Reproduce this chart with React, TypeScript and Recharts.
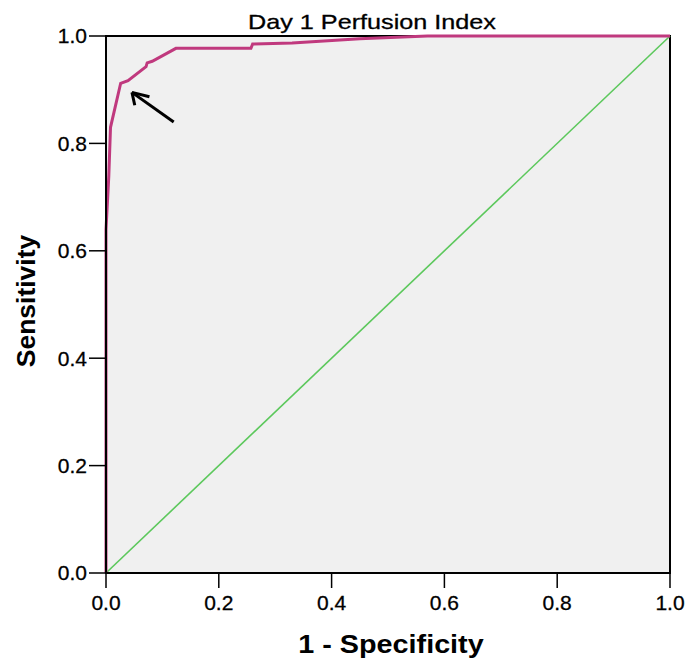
import {
  LineChart,
  Line,
  XAxis,
  YAxis,
  ReferenceArea,
  ReferenceLine,
} from "recharts";

// ROC curve (1 - specificity, sensitivity)
const rocFpr = [0, 0, 0.005, 0.008, 0.026, 0.039, 0.071, 0.073, 0.082, 0.124, 0.257, 0.26, 0.33, 0.45, 0.57, 1];
const rocTpr = [0, 0.64, 0.74, 0.83, 0.912, 0.917, 0.943, 0.95, 0.953, 0.977, 0.977, 0.985, 0.987, 0.995, 1, 1];

// reference diagonal
const refFpr = [0, 1];
const refTpr = [0, 1];

const xTicks = [0, 0.2, 0.4, 0.6, 0.8, 1];
const yTicks = [0, 0.2, 0.4, 0.6, 0.8, 1];

// arrow pointing at the cut-off point
const arrowShaft = [{ x: 0.12, y: 0.84 }, { x: 0.046, y: 0.895 }];
const arrowWingA = [{ x: 0.046, y: 0.895 }, { x: 0.051, y: 0.871 }];
const arrowWingB = [{ x: 0.046, y: 0.895 }, { x: 0.077, y: 0.887 }];

const rocData = rocFpr.map((fpr, i) => ({ fpr, tpr: rocTpr[i] }));
const refData = refFpr.map((fpr, i) => ({ fpr, tpr: refTpr[i] }));

const font = "Arial, 'Liberation Sans', sans-serif";

export default function App() {
  return (
    <div style={{ position: "absolute", left: 0, top: 0, width: 689, height: 661, background: "#fff", fontFamily: font }}>
      <LineChart width={689} height={661} margin={{ top: 36, right: 19, left: 0, bottom: 0 }}>
        <ReferenceArea
          x1={0}
          x2={1}
          y1={0}
          y2={1}
          fill="#f0f0f0"
          fillOpacity={1}
          stroke="#000"
          strokeWidth={2}
        />
        <XAxis
          dataKey="fpr"
          type="number"
          domain={[0, 1]}
          ticks={xTicks}
          tickFormatter={(v: number) => v.toFixed(1)}
          height={88}
          tickSize={15}
          tickMargin={7}
          allowDuplicatedCategory={false}
          axisLine={{ stroke: "#000", strokeWidth: 2 }}
          tickLine={{ stroke: "#000", strokeWidth: 1.5 }}
          tick={{ fill: "#000", fontSize: 21, fontFamily: font, stroke: "#000", strokeWidth: 0.3 }}
        />
        <YAxis
          dataKey="tpr"
          type="number"
          domain={[0, 1]}
          ticks={yTicks}
          tickFormatter={(v: number) => v.toFixed(1)}
          width={106}
          tickSize={17}
          tickMargin={2}
          axisLine={{ stroke: "#000", strokeWidth: 2 }}
          tickLine={{ stroke: "#000", strokeWidth: 1.5 }}
          tick={{ fill: "#000", fontSize: 21, fontFamily: font, stroke: "#000", strokeWidth: 0.3 }}
        />
        <Line
          data={refData}
          dataKey="tpr"
          type="linear"
          stroke="#5cc85c"
          strokeWidth={1.6}
          dot={false}
          isAnimationActive={false}
        />
        <Line
          data={rocData}
          dataKey="tpr"
          type="linear"
          stroke="#c0397e"
          strokeWidth={3}
          dot={false}
          isAnimationActive={false}
        />
        <ReferenceLine segment={arrowShaft} stroke="#000" strokeWidth={3} ifOverflow="visible" />
        <ReferenceLine segment={arrowWingA} stroke="#000" strokeWidth={3} ifOverflow="visible" />
        <ReferenceLine segment={arrowWingB} stroke="#000" strokeWidth={3} ifOverflow="visible" />
      </LineChart>

      {/* chart title */}
      <div
        style={{
          position: "absolute",
          left: 371.5,
          top: 11,
          fontSize: 21,
          lineHeight: "21px",
          whiteSpace: "nowrap",
          color: "#000",
          WebkitTextStroke: "0.3px #000",
          transform: "translateX(-50%) scaleX(1.2)",
        }}
      >
        Day 1 Perfusion Index
      </div>

      {/* x axis title */}
      <div
        style={{
          position: "absolute",
          left: 390.5,
          top: 632,
          fontSize: 25,
          lineHeight: "25px",
          fontWeight: "bold",
          whiteSpace: "nowrap",
          color: "#000",
          transform: "translateX(-50%) scaleX(1.15)",
        }}
      >
        1 - Specificity
      </div>

      {/* y axis title */}
      <div
        style={{
          position: "absolute",
          left: 26,
          top: 301,
          fontSize: 25,
          lineHeight: "25px",
          fontWeight: "bold",
          whiteSpace: "nowrap",
          color: "#000",
          transform: "translate(-50%, -50%) rotate(-90deg) scaleX(1.06)",
        }}
      >
        Sensitivity
      </div>
    </div>
  );
}
